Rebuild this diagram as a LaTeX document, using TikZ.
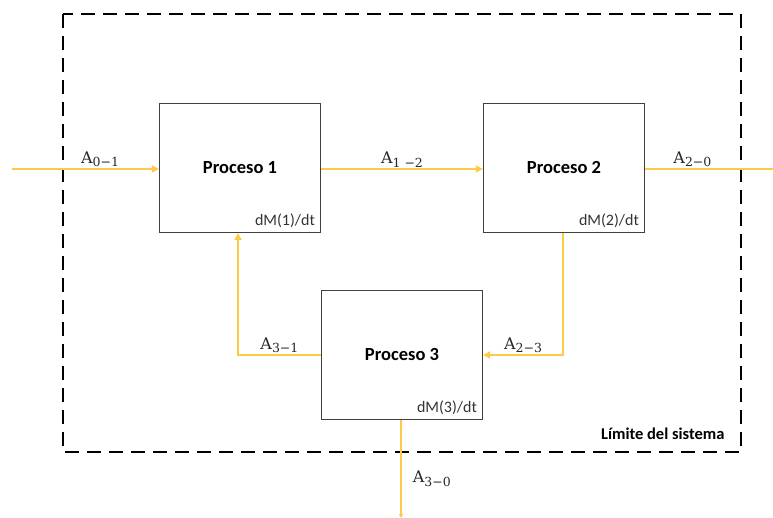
\documentclass[tikz,border=0pt]{standalone}
\usepackage[no-math]{fontspec}
\setmainfont{Carlito}
\newfontfamily\labfont{DejaVu Serif}
\usetikzlibrary{arrows.meta}
\definecolor{flow}{HTML}{FFC94A}
\definecolor{boxline}{HTML}{404040}
\newcommand{\flowlab}[1]{{\labfont A}\raisebox{-0.45ex}{\fontsize{12.5}{13}\selectfont\labfont #1}}
\begin{document}
\begin{tikzpicture}[x=1pt,y=-1pt,
  procbox/.style={draw=boxline, line width=1.2pt, minimum width=161pt, minimum height=129pt, inner sep=0pt, font=\fontsize{18.5}{20}\selectfont\bfseries},
  flowline/.style={draw=flow, line width=1.8pt},
  flowarrow/.style={flowline, -{Triangle[length=7pt,width=7pt]}},
  rate/.style={font=\fontsize{16}{18}\selectfont, anchor=south east, inner xsep=6pt, inner ysep=5pt, text=black!80},
  flab/.style={font=\fontsize{16}{18}\selectfont, inner sep=1pt, text=black!85}]
\useasboundingbox (0,0) rectangle (773,518);
% system boundary
\draw[line width=2.4pt, dash pattern=on 14pt off 8pt, line join=miter] (63,14) rectangle (741,452);
\node[font=\fontsize{16.5}{18}\selectfont\bfseries, anchor=east] (lim) at (728,434) {Límite del sistema};
% processes
\node[procbox] (p1) at (240,168) {Proceso 1};
\node[procbox] (p2) at (564,168) {Proceso 2};
\node[procbox] (p3) at (402,355) {Proceso 3};
\node[rate] (r1) at (p1.south east) {dM(1)/dt};
\node[rate] (r2) at (p2.south east) {dM(2)/dt};
\node[rate] (r3) at (p3.south east) {dM(3)/dt};
% flows
\coordinate (in1) at (12,169);
\coordinate (out2) at (773,169);
\coordinate (out3) at (401,518);
\draw[flowarrow] (in1) -- (p1.west |- in1) node[flab, pos=0.6, above] (a01) {\flowlab{0−1}};
\draw[flowarrow] (p1.east |- in1) -- (p2.west |- in1) node[flab, midway, above] (a12) {\flowlab{1 −2}};
\draw[flowline] (p2.east |- in1) -- (out2) node[flab, pos=0.37, above] (a20) {\flowlab{2−0}};
\draw[flowarrow] (563,233) |- (p3.east) node[flab, pos=0.75, above] (a23) {\flowlab{2−3}};
\draw[flowarrow] (p3.west) -| (238,233) node[flab, pos=0.25, above] (a31) {\flowlab{3−1}};
\draw[flowline, -{Triangle[length=4pt,width=4pt]}] (p3.south -| out3) -- (out3) node[flab, pos=0.6, right=10pt] (a30) {\flowlab{3−0}};
\end{tikzpicture}
\end{document}
